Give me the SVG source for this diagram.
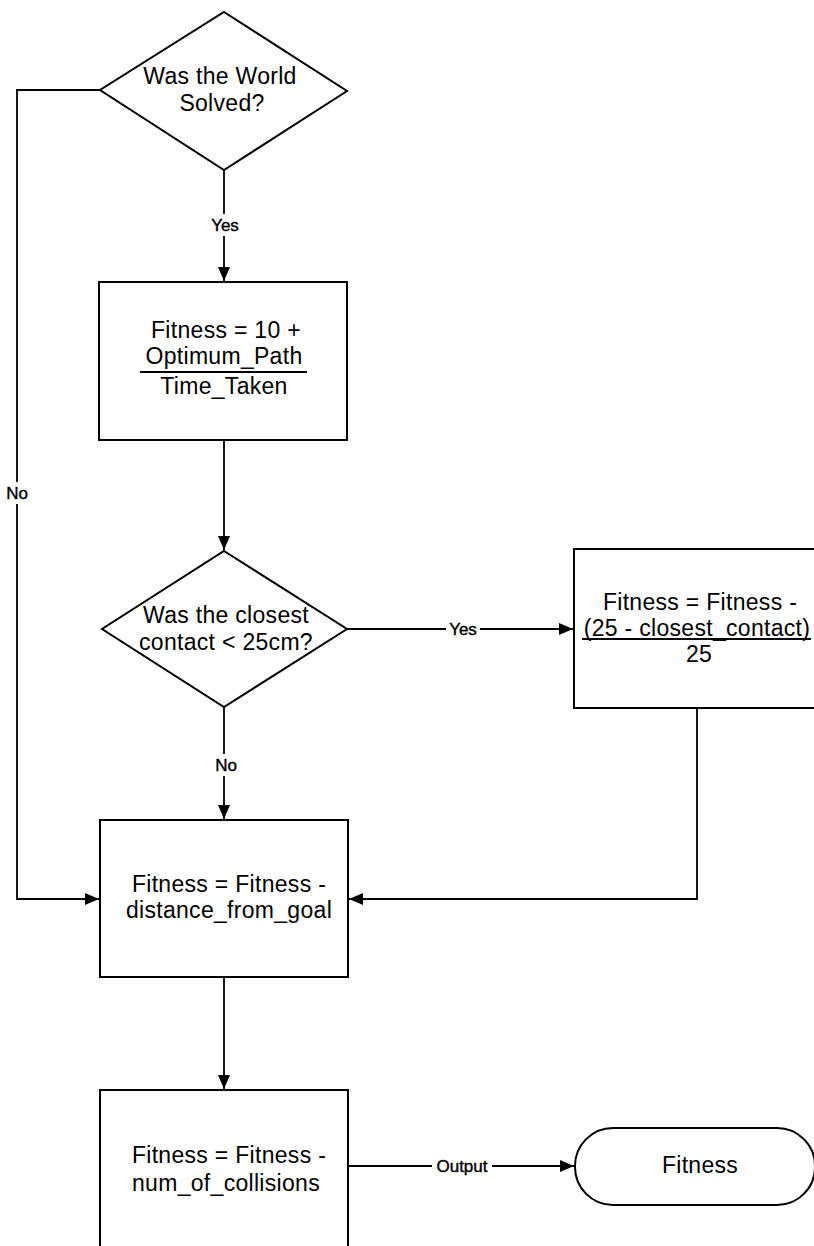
<svg xmlns="http://www.w3.org/2000/svg" width="814" height="1246" viewBox="0 0 814 1246">
  <style>
    .shape { fill: #ffffff; stroke: #000000; stroke-width: 2; }
    .line { fill: none; stroke: #000000; stroke-width: 1.8; }
    .rule { stroke: #000000; stroke-width: 2; }
    .txt { font-family: "Liberation Sans", Arial, sans-serif; font-size: 23px; fill: #000000; text-anchor: middle; letter-spacing: 0.3px; }
    .lbl { font-family: "Liberation Sans", Arial, sans-serif; font-size: 17px; fill: #000000; text-anchor: middle; stroke: #000000; stroke-width: 0.4px; }
    .bg { fill: #ffffff; stroke: none; }
  </style>
  <defs>
    <marker id="arrow" markerWidth="15" markerHeight="13" refX="14" refY="6" orient="auto" markerUnits="userSpaceOnUse">
      <path d="M0,0 L14,6 L0,12 z" fill="#000000"/>
    </marker>
  </defs>
  <rect width="814" height="1246" fill="#ffffff"/>

  <!-- connectors -->
  <g id="connectors">
    <path class="line" d="M100,90 L17,90 L17,899 L99,899" marker-end="url(#arrow)"/>
    <path class="line" d="M224,170 L224,281" marker-end="url(#arrow)"/>
    <path class="line" d="M224,440 L224,550" marker-end="url(#arrow)"/>
    <path class="line" d="M347,629 L573,629" marker-end="url(#arrow)"/>
    <path class="line" d="M224,707 L224,819" marker-end="url(#arrow)"/>
    <path class="line" d="M697,708 L697,899 L349,899" marker-end="url(#arrow)"/>
    <path class="line" d="M224,977 L224,1089" marker-end="url(#arrow)"/>
    <path class="line" d="M348,1166 L574,1166" marker-end="url(#arrow)"/>

    <!-- connector labels -->
    <rect class="bg" x="6" y="482" width="24" height="22"/>
    <text class="lbl" x="17" y="499">No</text>
    <rect class="bg" x="208" y="214" width="34" height="22"/>
    <text class="lbl" x="225" y="231">Yes</text>
    <rect class="bg" x="446" y="619" width="34" height="20"/>
    <text class="lbl" x="463" y="635">Yes</text>
    <rect class="bg" x="213" y="754" width="26" height="22"/>
    <text class="lbl" x="226" y="771">No</text>
    <rect class="bg" x="432" y="1156" width="60" height="20"/>
    <text class="lbl" x="462" y="1172">Output</text>
  </g>

  <!-- decision: world solved -->
  <g id="decision-solved">
    <polygon class="shape" points="224,12 347,91 224,170 100,90"/>
    <text class="txt" x="220" y="84">Was the World</text>
    <text class="txt" x="222" y="111">Solved?</text>
  </g>

  <!-- process: base fitness -->
  <g id="fitness-base">
    <rect class="shape" x="99" y="282" width="248" height="158"/>
    <text class="txt" x="226" y="338">Fitness = 10 +</text>
    <text class="txt" x="224" y="364">Optimum_Path</text>
    <line class="rule" x1="140" y1="372" x2="307" y2="372"/>
    <text class="txt" x="224" y="394">Time_Taken</text>
  </g>

  <!-- decision: closest contact -->
  <g id="decision-contact">
    <polygon class="shape" points="224,551 347,629 224,707 102,629"/>
    <text class="txt" x="226" y="623">Was the closest</text>
    <text class="txt" x="226" y="650">contact &lt; 25cm?</text>
  </g>

  <!-- process: contact penalty -->
  <g id="contact-penalty">
    <rect class="shape" x="574" y="549" width="250" height="159"/>
    <text class="txt" x="700" y="610">Fitness = Fitness -</text>
    <text class="txt" x="697" y="636">(25 - closest_contact)</text>
    <line class="rule" x1="582" y1="639" x2="811" y2="639"/>
    <text class="txt" x="699" y="662">25</text>
  </g>

  <!-- process: distance penalty -->
  <g id="distance-penalty">
    <rect class="shape" x="100" y="820" width="248" height="157"/>
    <text class="txt" x="229" y="892">Fitness = Fitness -</text>
    <text class="txt" x="229" y="918">distance_from_goal</text>
  </g>

  <!-- process: collision penalty -->
  <g id="collision-penalty">
    <rect class="shape" x="100" y="1090" width="248" height="170"/>
    <text class="txt" x="229" y="1163">Fitness = Fitness -</text>
    <text class="txt" x="226" y="1191">num_of_collisions</text>
  </g>

  <!-- terminal: output -->
  <g id="output-fitness">
    <rect class="shape" x="575" y="1128" width="240" height="77" rx="38" ry="38"/>
    <text class="txt" x="700" y="1173">Fitness</text>
  </g>
</svg>
